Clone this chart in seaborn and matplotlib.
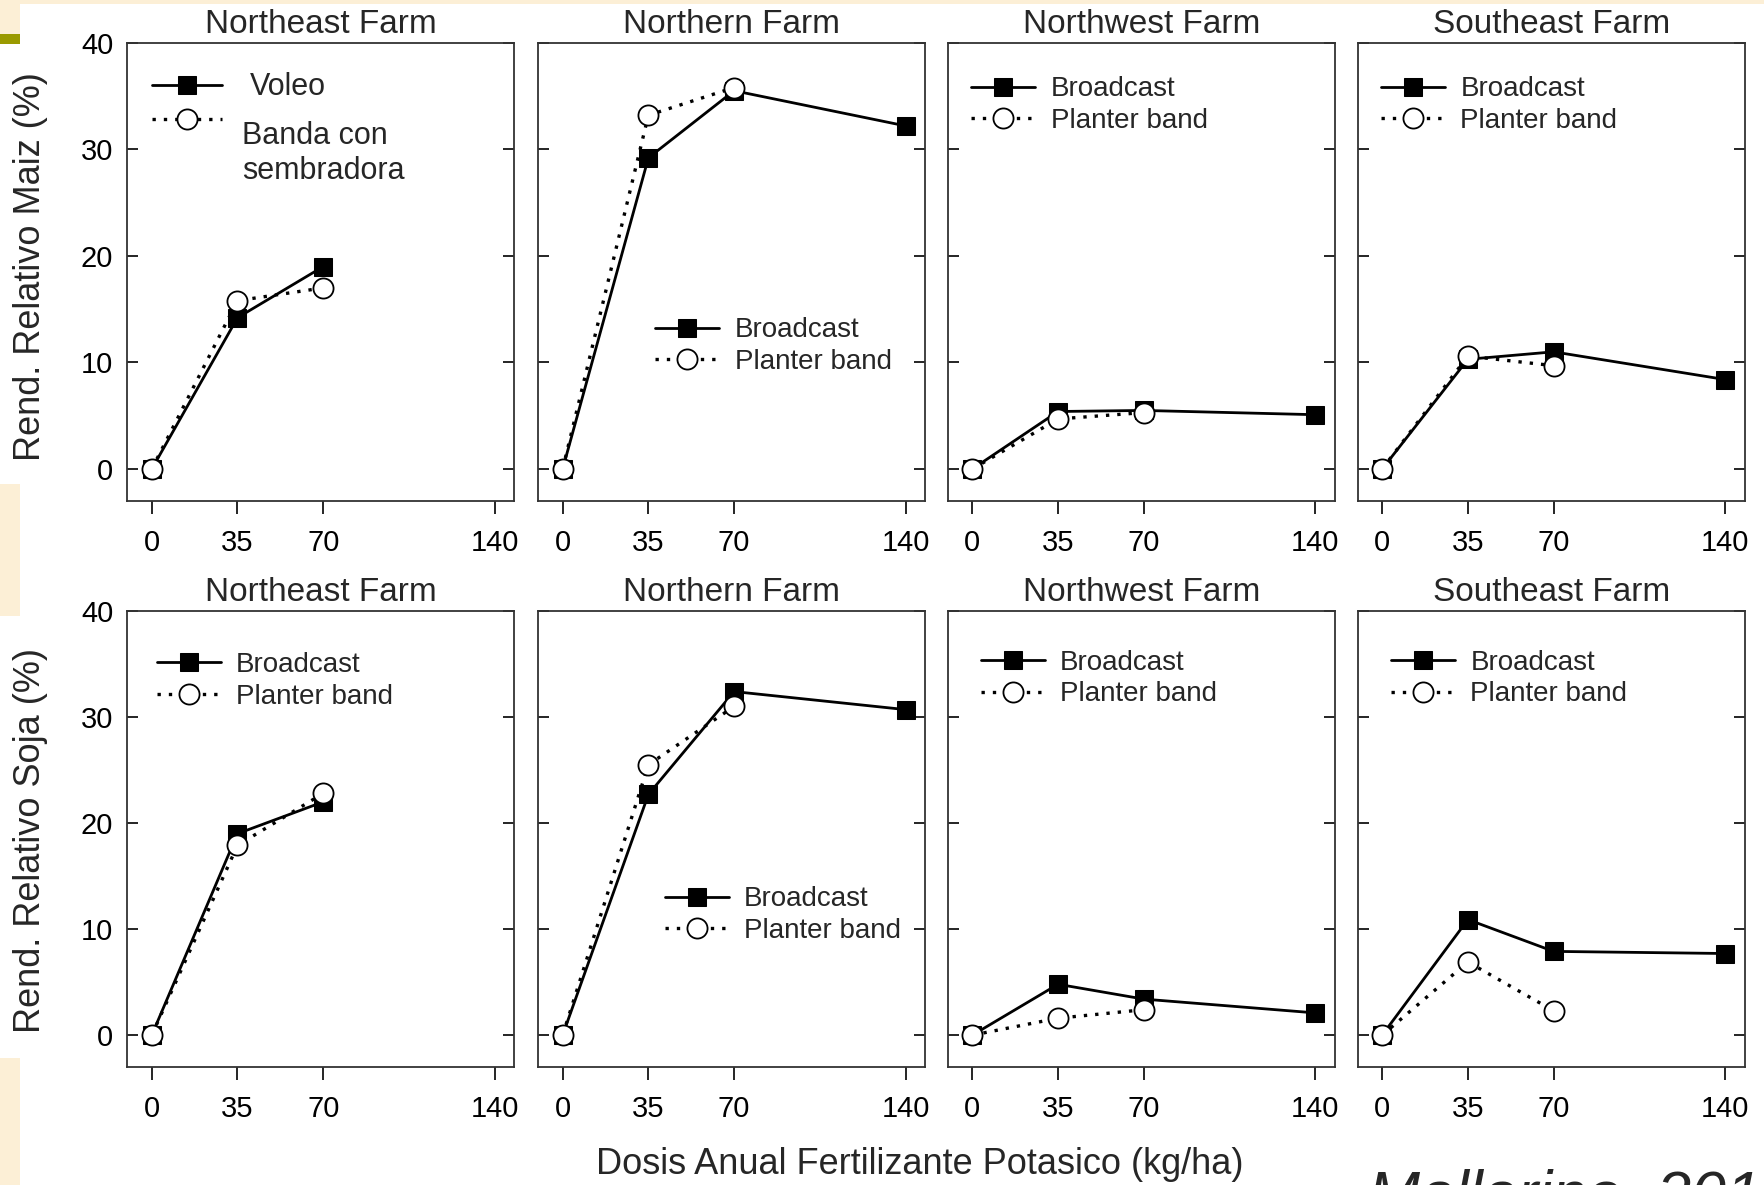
import matplotlib
matplotlib.use('Agg')
import matplotlib.pyplot as plt
from matplotlib.patches import Rectangle
import seaborn as sns
import pandas as pd

sns.set_style('ticks')
plt.rcParams['font.family'] = ['Liberation Sans', 'DejaVu Sans']

# ----------------- data -----------------
farms = ['Northeast Farm', 'Northern Farm', 'Northwest Farm', 'Southeast Farm']
doses = [0, 35, 70, 140]

maiz_broadcast = [[0, 14.2, 19.0], [0, 29.2, 35.5, 32.2], [0, 5.4, 5.5, 5.1], [0, 10.3, 11.0, 8.4]]
maiz_planter = [[0, 15.8, 17.0], [0, 33.2, 35.8], [0, 4.7, 5.3], [0, 10.6, 9.7]]
soja_broadcast = [[0, 19.0, 22.0], [0, 22.7, 32.4, 30.7], [0, 4.8, 3.4, 2.1], [0, 10.9, 7.9, 7.7]]
soja_planter = [[0, 17.9, 22.8], [0, 25.5, 31.0], [0, 1.6, 2.4], [0, 6.9, 2.3]]

y_ticks = [0, 10, 20, 30, 40]

# ----------------- layout -----------------
BG_BEIGE = '#fcefd6'
OLIVE = '#9a9a00'
SPINE = '#333333'

fig = plt.figure(figsize=(17.65, 11.85), dpi=100)
fig.patch.set_facecolor('white')

# slide decoration at the left edge
for (x0, y0, w, h, c) in [(0, 0.9966, 1, 0.0034, BG_BEIGE),
                          (0, 0.9713, 0.0113, 0.0287, BG_BEIGE),
                          (0, 0.9629, 0.0113, 0.0084, OLIVE),
                          (0, 0.4802, 0.0113, 0.1114, BG_BEIGE),
                          (0, 0.0, 0.0113, 0.1072, BG_BEIGE)]:
    fig.add_artist(Rectangle((x0, y0), w, h, transform=fig.transFigure,
                             facecolor=c, edgecolor='none', zorder=0))

lefts = [0.0721, 0.3049, 0.537, 0.7692]
width = 0.2193
rows = [(0.5772, 0.3867, maiz_broadcast, maiz_planter),
        (0.0996, 0.3848, soja_broadcast, soja_planter)]

# legend anchor (x of handle start, y of centre) per panel
leg_pos = [[(0.064, 0.865), (0.303, 0.338), (0.061, 0.864), (0.061, 0.864)],
           [(0.076, 0.847), (0.327, 0.333), (0.085, 0.852), (0.087, 0.852)]]

for r, (bottom, height, bc_rows, pb_rows) in enumerate(rows):
    for c, farm in enumerate(farms):
        ax = fig.add_axes([lefts[c], bottom, width, height])
        ax.set_facecolor('white')

        bc = bc_rows[c]
        pb = pb_rows[c]
        df_bc = pd.DataFrame({'dose': doses[:len(bc)], 'val': bc})
        df_pb = pd.DataFrame({'dose': doses[:len(pb)], 'val': pb})

        sns.lineplot(x='dose', y='val', data=df_bc, ax=ax, color='black', lw=2,
                     marker='s', markersize=13, markerfacecolor='black',
                     markeredgecolor='black', label='Broadcast', legend=False,
                     errorbar=None, clip_on=False)
        sns.lineplot(x='dose', y='val', data=df_pb, ax=ax, color='black', lw=2.4,
                     linestyle=(0, (1, 2.4)), marker='o', markersize=14.5,
                     markerfacecolor='white', markeredgecolor='black',
                     markeredgewidth=1.3, label='Planter band', legend=False,
                     errorbar=None, clip_on=False)

        ax.set_xlim(-10, 148)
        ax.set_ylim(-3, 40)
        ax.set_xticks(doses)
        ax.set_xticklabels([str(d) for d in doses])
        ax.set_yticks(y_ticks)
        ax.set_xlabel('')
        ax.set_ylabel('')
        ax.tick_params(axis='x', direction='out', length=9, width=1.2,
                       pad=11, labelsize=21, colors='black')
        ax.tick_params(axis='y', direction='in', length=8, width=1.2,
                       left=True, right=True, labelleft=(c == 0),
                       pad=10, labelsize=21, colors='black')
        for sp in ax.spines.values():
            sp.set_visible(True)
            sp.set_linewidth(1.3)
            sp.set_color(SPINE)
        ax.set_title(farm, fontsize=24, pad=7)

        lines = ax.get_lines()[:2]
        lx, ly = leg_pos[r][c]
        if r == 0 and c == 0:
            ax.legend(lines, ['Voleo', ' '], loc='center left',
                      bbox_to_anchor=(lx, ly), frameon=False, fontsize=22,
                      borderpad=0, borderaxespad=0, handlelength=2.3,
                      handletextpad=0.9, labelspacing=0.15)
            ax.text(0.2965, 0.830, 'Banda con\nsembradora', transform=ax.transAxes,
                    fontsize=22, va='top', ha='left', linespacing=1.25)
        else:
            ax.legend(lines, ['Broadcast', 'Planter band'], loc='center left',
                      bbox_to_anchor=(lx, ly), frameon=False, fontsize=20,
                      borderpad=0, borderaxespad=0, handlelength=2.3,
                      handletextpad=0.55, labelspacing=0.2)

fig.text(0.017, 0.7747, 'Rend. Relativo Maiz (%)', rotation=90,
         ha='center', va='center', fontsize=26)
fig.text(0.017, 0.2903, 'Rend. Relativo Soja (%)', rotation=90,
         ha='center', va='center', fontsize=26)
fig.text(0.521, 0.0169, 'Dosis Anual Fertilizante Potasico (kg/ha)',
         ha='center', va='center', fontsize=26)
# citation runs off the slide edge, as in the original
fig.text(0.775, 0.0135, 'Mallarino, 2011', style='italic', fontsize=45,
         ha='left', va='top')

fig.savefig('out.png', dpi=100)
plt.close(fig)
